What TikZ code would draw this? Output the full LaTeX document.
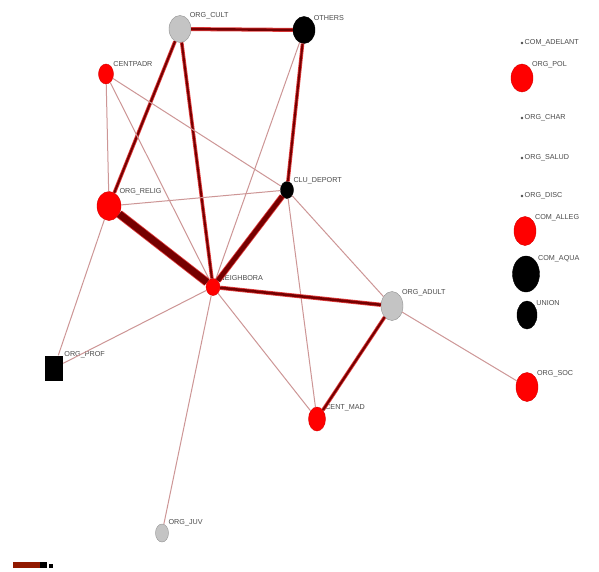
\documentclass[tikz,border=0pt]{standalone}
\usepackage{fontspec}
\setmainfont{Liberation Sans}
\usepackage{xcolor}
\usetikzlibrary{shapes.geometric}

\definecolor{actred}{RGB}{255,0,0}
\definecolor{actgrey}{RGB}{196,196,196}
\definecolor{tiedark}{RGB}{118,0,0}
\definecolor{tiehalo}{RGB}{225,60,60}
\definecolor{tielight}{RGB}{205,150,150}
\definecolor{lblgrey}{RGB}{75,75,75}

\begin{document}
\begin{tikzpicture}[x=1pt,y=-1pt,
        actor/.style 2 args={ellipse,inner sep=0pt,minimum width=#1,minimum height=#2},
        redact/.style={fill=actred,draw=actred!85!black,line width=0.4pt},
        greyact/.style={fill=actgrey,draw=actgrey!75!black,line width=0.4pt},
        blackact/.style={fill=black,draw=black},
        isolate/.style={circle,fill=lblgrey,inner sep=0pt,minimum size=2.6pt},
        lbl/.style={text=lblgrey,font=\fontsize{7.2}{8}\selectfont,inner sep=1pt},
        weak/.style={draw=tielight,line width=1pt},
        tie/.style={draw=tiedark,line width=#1,preaction={draw=tiehalo,line width=#1+1.6pt}}
    ]
        \useasboundingbox[fill=white] (0,0) rectangle (599,571);

        % Nodes of the network
        \node[actor={22pt}{27pt},greyact,label={[lbl]above right:ORG\_CULT}] (cult) at (180,29) {};
        \node[actor={22pt}{27pt},blackact,label={[lbl]above right:OTHERS}] (others) at (304,30) {};
        \node[actor={15pt}{20pt},redact,label={[lbl]above right:CENTPADR}] (centpadr) at (106,74) {};
        \node[actor={24pt}{29pt},redact,label={[lbl]above right:ORG\_RELIG}] (relig) at (109,206) {};
        \node[actor={13pt}{17pt},blackact,label={[lbl]above right:CLU\_DEPORT}] (deport) at (287,190) {};
        \node[actor={14pt}{17pt},redact,label={[lbl]above right:NEIGHBORA}] (neigh) at (213,287) {};
        \node[actor={22pt}{29pt},greyact,label={[lbl]above right:ORG\_ADULT}] (adult) at (392,306) {};
        \node[rectangle,minimum width=18pt,minimum height=25pt,inner sep=0pt,fill=black,
              label={[lbl]above right:ORG\_PROF}] (prof) at (54,368) {};
        \node[actor={17pt}{24pt},redact,label={[lbl]above right:CENT\_MAD}] (centmad) at (317,419) {};
        \node[actor={13pt}{18pt},greyact,label={[lbl]above right:ORG\_JUV}] (juv) at (162,533) {};
        \node[actor={22pt}{29pt},redact,label={[lbl]above right:ORG\_SOC}] (soc) at (527,387) {};

        % Isolates down the right side
        \node[isolate,label={[lbl]right:COM\_ADELANT}] (adelant) at (522,43) {};
        \node[actor={22pt}{28pt},redact,label={[lbl]above right:ORG\_POL}] (pol) at (522,78) {};
        \node[isolate,label={[lbl]right:ORG\_CHAR}] (char) at (522,118) {};
        \node[isolate,label={[lbl]right:ORG\_SALUD}] (salud) at (522,158) {};
        \node[isolate,label={[lbl]right:ORG\_DISC}] (disc) at (522,196) {};
        \node[actor={22pt}{29pt},redact,label={[lbl]above right:COM\_ALLEG}] (alleg) at (525,231) {};
        \node[actor={27pt}{36pt},blackact,label={[lbl]above right:COM\_AQUA}] (aqua) at (526,274) {};
        \node[actor={20pt}{28pt},blackact,label={[lbl]above right:UNION}] (union) at (527,315) {};

        % Ties
        \draw[tie=2.4pt] (cult) -- (others);
        \draw[tie=2pt] (cult) -- (relig);
        \draw[tie=2pt] (cult) -- (neigh);
        \draw[tie=2pt] (others) -- (deport);
        \draw[weak] (others) -- (neigh);
        \draw[weak] (centpadr) -- (relig);
        \draw[weak] (centpadr) -- (neigh);
        \draw[weak] (centpadr) -- (deport);
        \draw[weak] (relig) -- (deport);
        \draw[tie=7pt] (relig) -- (neigh);
        \draw[weak] (relig) -- (prof);
        \draw[tie=4.5pt] (deport) -- (neigh);
        \draw[weak] (deport) -- (adult);
        \draw[weak] (deport) -- (centmad);
        \draw[tie=2.6pt] (neigh) -- (adult);
        \draw[weak] (neigh) -- (prof);
        \draw[weak] (neigh) -- (centmad);
        \draw[weak] (neigh) -- (juv);
        \draw[tie=2pt] (adult) -- (centmad);
        \draw[weak] (adult) -- (soc);

        % Small logo in the corner
        \fill[tiedark!80!orange] (13,562) rectangle (40,567.5);
        \fill[black] (40,562) rectangle (47,567.5);
        \fill[black] (49,563.5) rectangle (53,567.5);
    \end{tikzpicture}
\end{document}
